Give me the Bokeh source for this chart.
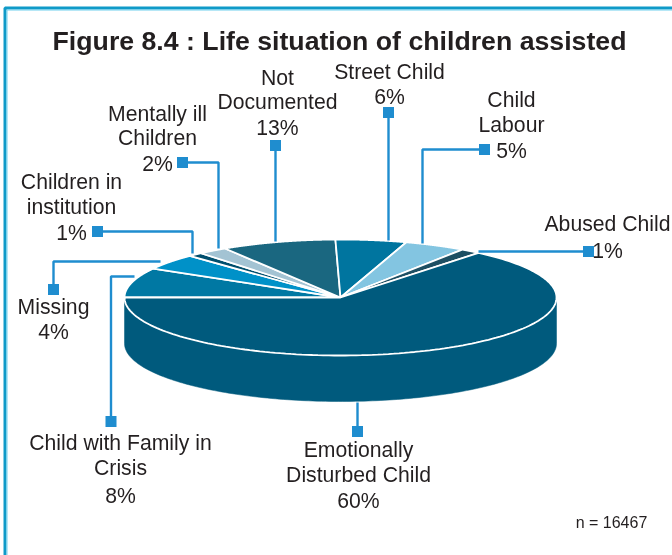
import numpy as np
from bokeh.embed import file_html
from bokeh.resources import INLINE
from bokeh.plotting import figure
from bokeh.models import Range1d
from bokeh.core.properties import value

# ---- data (clockwise from the left edge of the pie)
categories = ["Child with Family in Crisis", "Missing", "Children in institution",
              "Mentally ill Children", "Not Documented", "Street Child",
              "Child Labour", "Abused Child", "Emotionally Disturbed Child"]
printed_percent = [8, 4, 1, 2, 13, 6, 5, 1, 60]
# share of the ellipse each wedge covers as drawn in the picture
drawn_share = [8.3, 4.4, 1.1, 2.2, 8.6, 5.3, 4.6, 1.5, 63.9]
colors = ["#0078a3", "#0091c8", "#004f6e", "#a3c3d3", "#1a6780",
          "#00759f", "#83c5e1", "#1d4f63", "#005a7d"]

title = "Figure 8.4 : Life situation of children assisted"
label_lines = [
    ["Child with Family in", "Crisis", "8%"],
    ["Missing", "4%"],
    ["Children in", "institution", "1%"],
    ["Mentally ill", "Children", "2%"],
    ["Not", "Documented", "13%"],
    ["Street Child", "6%"],
    ["Child", "Labour", "5%"],
    ["Abused Child", "1%"],
    ["Emotionally", "Disturbed Child", "60%"],
]
label_x = [120, 53, 71, 157, 277, 389, 511, 607, 358]
label_baselines = [[450, 475, 503], [314, 339], [189, 214, 240], [121, 145, 171],
                   [85, 109, 135], [79, 104], [107, 132, 158], [231, 258], [457, 482, 508]]
leader_x = [[110.5, 110.5, 134], [53, 53, 160], [97, 192, 192], [182, 218, 218],
            [275, 275], [388, 388], [484, 422, 422], [588, 478], [357, 357]]
leader_y = [[421, 276, 276], [289, 261, 261], [231, 231, 253], [162, 162, 248],
            [145, 241], [112, 240], [149, 149, 243], [251, 251], [431, 402]]

W, H = 672, 555
cx, cy, rx, ry, depth = 340, 297, 216, 58, 46
ink = "#231f20"
leader = "#1f8dcf"
BASE_SHIFT = 0.37  # the text renderer sits this fraction of the font size below the given y

p = figure(width=W, height=H, output_backend="svg", toolbar_location=None,
           x_range=Range1d(0, W), y_range=Range1d(H, 0), min_border=0,
           outline_line_color=None, background_fill_color="white")
p.axis.visible = False
p.grid.visible = False
p.styles = {"position": "fixed", "left": "0px", "top": "0px"}

def arc(t0, t1, n=160, dy=0):
    t = np.radians(np.linspace(t0, t1, n))
    return cx + rx * np.cos(t), cy + dy - ry * np.sin(t)

def put(x, y, s, size, style="normal"):
    p.text([x], [y - BASE_SHIFT * size], text=[s], text_font=value("Liberation Sans"),
           text_font_size=f"{size}px", text_font_style=style, text_color=ink,
           text_align="center", text_baseline="alphabetic")

# side wall
xa, ya = arc(180, 360)
xb, yb = arc(360, 180, dy=depth)
p.patch(np.r_[xa, xb], np.r_[ya, yb], fill_color=colors[-1], line_color=colors[-1], line_width=0.5)

# top wedges
shares = np.array(drawn_share, float)
edges = 180 - np.r_[0, np.cumsum(shares / shares.sum() * 360)]
for i in range(len(shares)):
    ax, ay = arc(edges[i], edges[i + 1])
    p.patch(np.r_[cx, ax], np.r_[cy, ay], fill_color=colors[i], line_color="white", line_width=1.8)

# leaders
for lx, ly in zip(leader_x, leader_y):
    p.line(lx, ly, line_color=leader, line_width=2.4)
p.scatter([l[0] for l in leader_x], [l[0] for l in leader_y], marker="square", size=11,
          fill_color=leader, line_color=None)

# labels
for x, lines, bases in zip(label_x, label_lines, label_baselines):
    for s, b in zip(lines, bases):
        put(x, b, s, 21.2)
put(339, 50, title, 26.7, "bold")
put(611, 528, "n = 16467", 16)

# frame
p.line([4.5, 4.5, W], [H, 7.5, 7.5], line_color="#0f9ac8", line_width=3)
p.line([6.5, 6.5, W], [H, 9.5, 9.5], line_color="#6fd0ee", line_width=1)

open("out.html", "w").write(file_html(p, INLINE))
